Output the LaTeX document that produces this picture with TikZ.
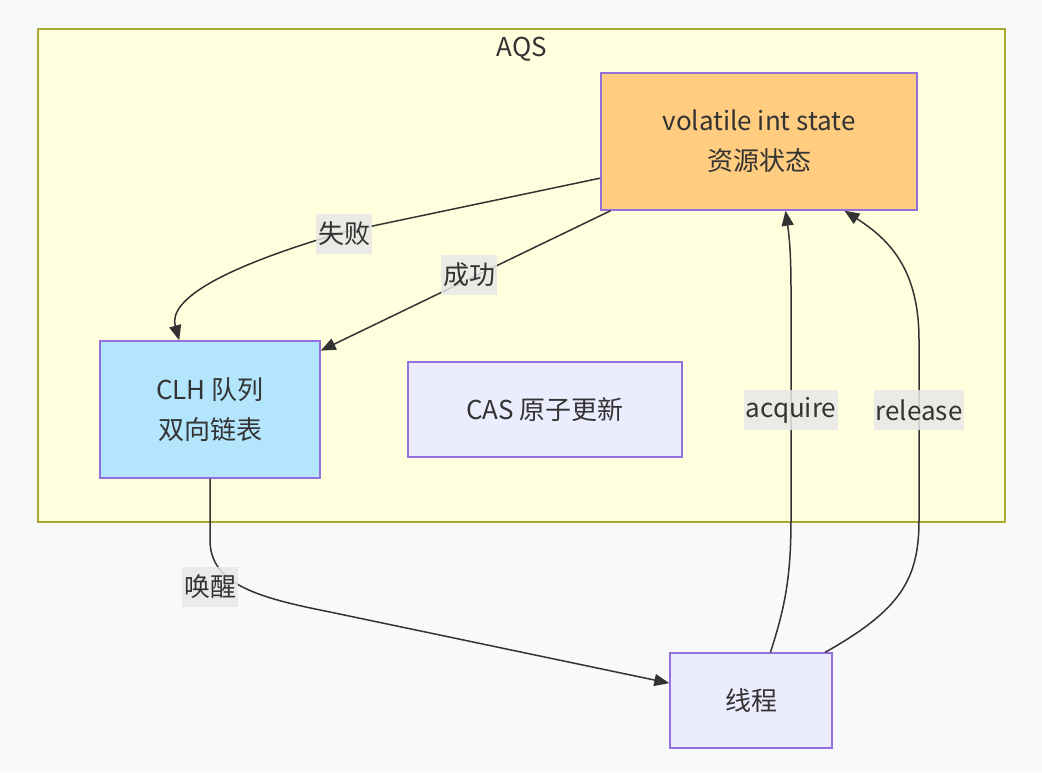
\documentclass[tikz,border=0pt]{standalone}
\usepackage{fontspec}
\setmainfont{Noto Sans CJK SC}
\usetikzlibrary{arrows.meta,positioning}

\definecolor{pagebg}{RGB}{248,249,250}
\definecolor{groupfill}{RGB}{255,255,222}
\definecolor{groupline}{RGB}{170,170,51}
\definecolor{boxline}{RGB}{147,112,219}
\definecolor{boxfill}{RGB}{236,236,255}
\definecolor{statefill}{RGB}{255,204,128}
\definecolor{queuefill}{RGB}{179,229,252}
\definecolor{inkgray}{RGB}{51,51,51}
\definecolor{tagfill}{RGB}{232,232,232}

\begin{document}
\begin{tikzpicture}[
    x=1pt, y=-1pt,
    font=\fontsize{26}{40}\selectfont,
    text=inkgray,
    block/.style={rectangle, draw=boxline, line width=1.4pt, fill=boxfill, align=center, inner sep=0pt},
    tag/.style={fill=tagfill, fill opacity=0.85, text opacity=1, inner xsep=2pt, inner ysep=0pt, minimum height=40pt},
    arrow/.style={draw=inkgray, line width=1.5pt, -{Triangle[length=15pt,width=12pt]}}
]

% page and group frame
\fill [pagebg] (0,0) rectangle (1042,772);
\draw [groupline, fill=groupfill, line width=1.2pt] (38,29) rectangle (1005,522);
\node (aqs) at (522,49) {AQS};

% boxes
\node [block, fill=statefill, minimum width=316pt, minimum height=137pt] (state) at (759,141.5) {volatile int state\\资源状态};
\node [block, fill=queuefill, minimum width=220pt, minimum height=137pt] (clh) at (210,409.5) {CLH 队列\\双向链表};
\node [block, minimum width=274pt, minimum height=95pt] (cas) at (545,409.5) {CAS 原子更新};
\node [block, minimum width=162pt, minimum height=95pt] (thread) at (751,700.5) {线程};

% connectors
\draw [arrow] (state.193) -- (344,232) .. controls (220,268) and (168,300) .. (clh.114);
\draw [arrow] (state.205) -- (clh.28);
\draw [arrow] (thread.68) .. controls (784,610) and (791,580) .. (791,520) -- (791,290) .. controls (791,250) and (789,235) .. (state.291);
\draw [arrow] (thread.33) .. controls (900,610) and (919,580) .. (919,520) -- (919,340) .. controls (919,270) and (890,240) .. (state.321.5);
\draw [arrow] (clh.south) -- (210,540) .. controls (210,585) and (260,598) .. (330,612) -- (thread.168);

% edge labels
\node [tag] (fail) at (344,234) {失败};
\node [tag] (ok) at (469,275) {成功};
\node [tag] (acq) at (791,410) {acquire};
\node [tag] (rel) at (919,410) {release};
\node [tag] (wake) at (210,587) {唤醒};

\end{tikzpicture}
\end{document}
